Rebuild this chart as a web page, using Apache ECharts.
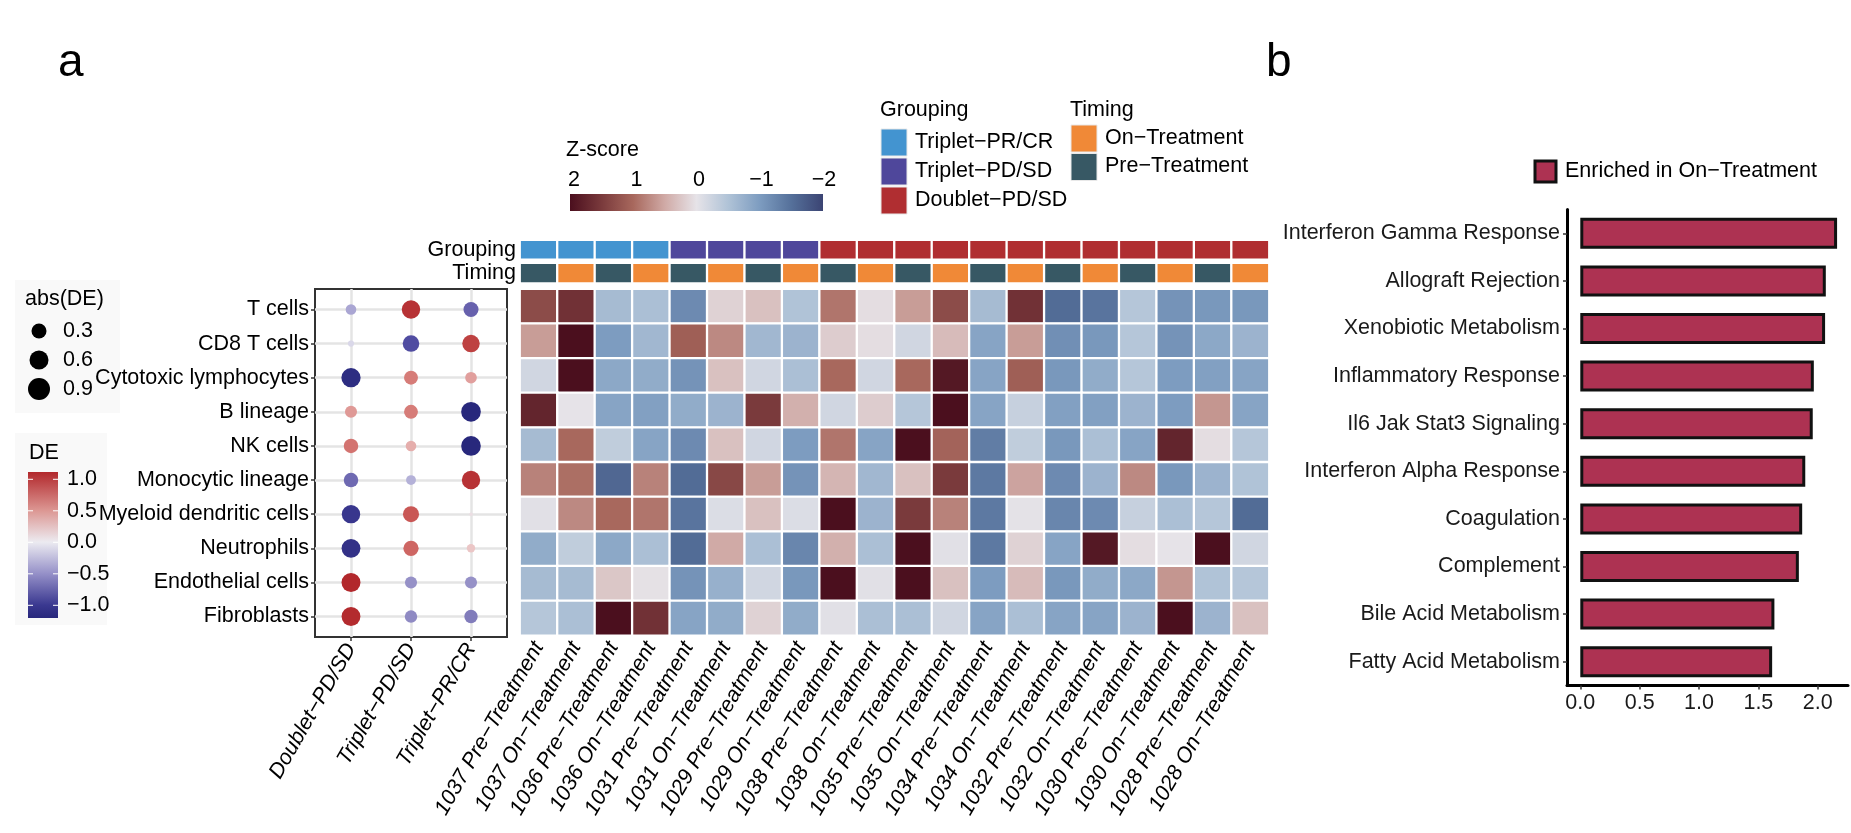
<!DOCTYPE html>
<html><head><meta charset="utf-8">
<script src="https://cdn.jsdelivr.net/npm/echarts@6/dist/echarts.min.js"></script>
<style>html,body{margin:0;padding:0;background:#fff}#c{width:1851px;height:833px}</style>
</head><body><div id="c"></div>
<script>
// ---------- data ----------
const cellTypes = ['T cells','CD8 T cells','Cytotoxic lymphocytes','B lineage','NK cells','Monocytic lineage','Myeloid dendritic cells','Neutrophils','Endothelial cells','Fibroblasts'];
const deGroups = ['Doublet−PD/SD','Triplet−PD/SD','Triplet−PR/CR'];
const deDoublet   = [-0.35,-0.12,-1.15, 0.45, 0.65,-0.65,-1.05,-1.10, 1.12, 1.10];
const deTripletPD = [ 1.05,-0.85, 0.60, 0.60, 0.35,-0.30, 0.80, 0.72,-0.45,-0.48];
const deTripletPR = [-0.70, 0.95, 0.42,-1.20,-1.20, 1.05, 0.04, 0.22,-0.45,-0.55];

const samples = ['1037 Pre−Treatment','1037 On−Treatment','1036 Pre−Treatment','1036 On−Treatment','1031 Pre−Treatment','1031 On−Treatment','1029 Pre−Treatment','1029 On−Treatment','1038 Pre−Treatment','1038 On−Treatment','1035 Pre−Treatment','1035 On−Treatment','1034 Pre−Treatment','1034 On−Treatment','1032 Pre−Treatment','1032 On−Treatment','1030 Pre−Treatment','1030 On−Treatment','1028 Pre−Treatment','1028 On−Treatment'];
const sampleGrouping = ['Triplet−PR/CR','Triplet−PR/CR','Triplet−PR/CR','Triplet−PR/CR','Triplet−PD/SD','Triplet−PD/SD','Triplet−PD/SD','Triplet−PD/SD','Doublet−PD/SD','Doublet−PD/SD','Doublet−PD/SD','Doublet−PD/SD','Doublet−PD/SD','Doublet−PD/SD','Doublet−PD/SD','Doublet−PD/SD','Doublet−PD/SD','Doublet−PD/SD','Doublet−PD/SD','Doublet−PD/SD'];
const sampleTiming = ['Pre−Treatment','On−Treatment','Pre−Treatment','On−Treatment','Pre−Treatment','On−Treatment','Pre−Treatment','On−Treatment','Pre−Treatment','On−Treatment','Pre−Treatment','On−Treatment','Pre−Treatment','On−Treatment','Pre−Treatment','On−Treatment','Pre−Treatment','On−Treatment','Pre−Treatment','On−Treatment'];

const zTcells    = [1.3,1.6,-0.6,-0.55,-1.2,0.15,0.3,-0.5,0.9,0.05, 0.6,1.3,-0.6,1.6,-1.55,-1.45,-0.45,-1.1,-1.05,-1.05];
const zCD8       = [0.6,2.2,-1.0,-0.65,1.1,0.75,-0.65,-0.7,0.2,0.05, -0.2,0.35,-0.9,0.6,-1.15,-1.05,-0.45,-1.1,-0.85,-0.7];
const zCytotoxic = [-0.2,2.2,-0.85,-0.8,-1.1,0.3,-0.2,-0.55,1.0,-0.2, 1.0,1.9,-0.9,1.1,-1.05,-0.8,-0.45,-1.0,-0.95,-0.9];
const zBlineage  = [1.75,0.0,-0.9,-0.95,-0.8,-0.7,1.5,0.45,-0.2,0.2, -0.45,2.2,-0.9,-0.3,-0.95,-0.95,-0.7,-1.0,0.65,-0.9];
const zNK        = [-0.6,1.0,-0.35,-0.9,-1.2,0.3,-0.2,-1.0,0.9,-0.9, 2.2,1.05,-1.35,-0.35,-1.05,-0.55,-0.9,1.75,0.05,-0.45];
const zMono      = [0.8,0.95,-1.6,0.8,-1.55,1.35,0.6,-1.1,0.4,-0.65, 0.3,1.5,-1.4,0.55,-1.2,-0.7,0.75,-1.05,-0.7,-0.5];
const zMyeloid   = [-0.05,0.75,1.0,0.9,-1.45,-0.1,0.3,-0.1,2.2,-0.7, 1.5,0.8,-1.4,-0.02,-1.25,-1.2,-0.3,-0.55,-0.45,-1.55];
const zNeut      = [-0.8,-0.35,-0.85,-0.55,-1.55,0.5,-0.55,-1.25,0.45,-0.55, 2.1,-0.05,-1.4,0.15,-0.9,1.9,0.05,0.0,2.2,-0.2];
const zEndo      = [-0.6,-0.6,0.25,0.02,-1.1,-0.75,-0.2,-1.05,2.2,-0.05, 2.2,0.3,-1.0,0.35,-1.05,-0.8,-0.85,0.65,-0.5,-0.45];
const zFibro     = [-0.45,-0.55,2.2,1.6,-0.9,-0.8,0.15,-0.8,-0.05,-0.55, -0.55,-0.2,-0.9,-0.55,-0.9,-0.9,-0.7,2.2,-0.7,0.3];

const pathways = ['Interferon Gamma Response','Allograft Rejection','Xenobiotic Metabolism','Inflammatory Response','Il6 Jak Stat3 Signaling','Interferon Alpha Response','Coagulation','Complement','Bile Acid Metabolism','Fatty Acid Metabolism'];
const enrichment = [2.163,2.068,2.062,1.967,1.958,1.895,1.869,1.841,1.635,1.616];

const zTicks = [2,1,0,-1,-2];
const deTicks = [1.0,0.5,0.0,-0.5,-1.0];
const absTicks = [0.3,0.6,0.9];
const barTicks = [0,0.5,1,1.5,2];

// ---------- styles ----------
const FONT = 'Liberation Sans, Arial, sans-serif';
const FS = 21.5;
const groupColors = {'Triplet−PR/CR':'#4394d0','Triplet−PD/SD':'#4f479b','Doublet−PD/SD':'#b02e31'};
const timingColors = {'On−Treatment':'#f08937','Pre−Treatment':'#375864'};
const zColors = ['#3b4473','#55709a','#7d9cc0','#b0c3d7','#e6e3e8','#d0aaa6','#a8685d','#7a3a3c','#4b0f1e'];
const deColors = ['#28287c','#47439c','#736db3','#aeaad5','#ebe9f0','#ebc2c1','#da8783','#c75250','#b2282c'];
const barColor = '#ad3252';

// ---------- build series data ----------
const deCols = [deDoublet, deTripletPD, deTripletPR];
const dotData = [];
cellTypes.forEach((ct, r) => deCols.forEach((col, g) => dotData.push([g, r, col[r]])));
const zRows = [zTcells,zCD8,zCytotoxic,zBlineage,zNK,zMono,zMyeloid,zNeut,zEndo,zFibro];
const heatData = [];
zRows.forEach((row, r) => row.forEach((v, c) => heatData.push([c, r, v])));
const groupData = sampleGrouping.map((g, c) => ({value:[c, 0, 0], itemStyle:{color: groupColors[g]}}));
const timingData = sampleTiming.map((t, c) => ({value:[c, 0, 0], itemStyle:{color: timingColors[t]}}));

// ---------- legends (graphic) ----------
const g = [];
const txt = (x, y, text, opt) => Object.assign({type:'text', x, y, style:Object.assign({text, fontFamily:FONT, fontSize:FS, fill:'#000', align:'left', verticalAlign:'middle'}, opt||{})});
g.push(txt(58, 63, 'a', {fontSize:46}));
g.push(txt(1266, 63, 'b', {fontSize:46}));
// Z-score
g.push(txt(566, 150, 'Z-score'));
const zGradStops = zColors.slice().reverse().map((c, i) => ({offset: i/(zColors.length-1), color: c}));
g.push({type:'rect', shape:{x:570, y:194, width:253, height:17}, style:{fill:{type:'linear', x:0, y:0, x2:1, y2:0, colorStops:zGradStops}}});
zTicks.forEach(v => g.push(txt(699 - 62.5*v, 180, String(v).replace('-', '−'), {align:'center'})));
// Grouping legend
g.push(txt(880, 110, 'Grouping'));
const grpNames = ['Triplet−PR/CR','Triplet−PD/SD','Doublet−PD/SD'];
grpNames.forEach((n, i) => {
  g.push({type:'rect', shape:{x:881, y:129 + i*29, width:26, height:27}, style:{fill:groupColors[n], stroke:'#e8e8e8', lineWidth:1}});
  g.push(txt(915, 142.5 + i*29, n));
});
g.push(txt(1070, 110, 'Timing'));
const timNames = ['On−Treatment','Pre−Treatment'];
timNames.forEach((n, i) => {
  g.push({type:'rect', shape:{x:1071, y:125 + i*28.5, width:26, height:27}, style:{fill:timingColors[n], stroke:'#e8e8e8', lineWidth:1}});
  g.push(txt(1105, 138 + i*28.5, n));
});
// abs(DE) legend
g.push({type:'rect', z:-1, shape:{x:15, y:280, width:105, height:133}, style:{fill:'#f9f9f9'}});
g.push(txt(25, 299, 'abs(DE)'));
const absR = [7.5, 9.5, 11];
absTicks.forEach((v, i) => {
  g.push({type:'circle', shape:{cx:39, cy:331 + i*29, r:absR[i]}, style:{fill:'#000'}});
  g.push(txt(63, 331 + i*29, v.toFixed(1)));
});
// DE legend
g.push({type:'rect', z:-1, shape:{x:15, y:433, width:92, height:192}, style:{fill:'#f9f9f9'}});
g.push(txt(29, 453, 'DE'));
g.push({type:'rect', shape:{x:28, y:472, width:30, height:146}, style:{fill:{type:'linear', x:0, y:0, x2:0, y2:1, colorStops:[
  {offset:0, color:'#b2282c'}, {offset:0.264, color:'#dc9793'}, {offset:0.48, color:'#ecebf1'},
  {offset:0.696, color:'#9590c8'}, {offset:0.912, color:'#3a3890'}, {offset:1, color:'#28287c'}]}}});
deTicks.forEach(v => {
  const y = 542.3 - 63*v;
  g.push({type:'line', shape:{x1:28, y1:y, x2:33, y2:y}, style:{stroke:'#fff', lineWidth:1}});
  g.push({type:'line', shape:{x1:53, y1:y, x2:58, y2:y}, style:{stroke:'#fff', lineWidth:1}});
  g.push(txt(67, y, v.toFixed(1).replace('-', '−')));
});
// bar legend
g.push({type:'rect', shape:{x:1535, y:161, width:21, height:21}, style:{fill:barColor, stroke:'#111', lineWidth:3}});
g.push(txt(1565, 171, 'Enriched in On−Treatment'));

// ---------- chart ----------
const chart = echarts.init(document.getElementById('c'), null, {renderer:'canvas'});
const lbl = {fontFamily:FONT, fontSize:FS, color:'#000'};
chart.setOption({
  animation:false,
  backgroundColor:'#fff',
  textStyle:{fontFamily:FONT},
  grid:[
    {left:315, top:289, width:192, height:348, show:true, borderColor:'#333', borderWidth:2, backgroundColor:'#fff'},
    {left:520, top:289, width:749, height:346.5},
    {left:520, top:240, width:749, height:19.5},
    {left:520, top:263.2, width:749, height:20},
    {left:1567, top:209.5, width:281, height:476}
  ],
  xAxis:[
    {type:'value', gridIndex:0, min:-0.6, max:2.6,
     axisLine:{show:false, onZero:false},
     axisTick:{show:true, customValues:[0,1,2], length:4, lineStyle:{color:'#333', width:1.5}},
     axisLabel:Object.assign({customValues:[0,1,2], formatter:v => deGroups[Math.round(v)], rotate:60, fontStyle:'italic', margin:8}, lbl),
     splitLine:{show:true, lineStyle:{color:'#e4e4e4', width:2.5}}},
    {type:'category', gridIndex:1, data:samples, axisLine:{show:false}, axisTick:{show:false},
     axisLabel:Object.assign({interval:0, rotate:60, fontStyle:'italic', margin:8}, lbl), splitLine:{show:false}},
    {type:'category', gridIndex:2, data:samples, show:false},
    {type:'category', gridIndex:3, data:samples, show:false},
    {type:'value', gridIndex:4, min:-0.112, max:2.255,
     axisLine:{show:true, onZero:false, lineStyle:{color:'#000', width:3}},
     axisTick:{show:true, customValues:barTicks, length:4, lineStyle:{color:'#333', width:1.5}},
     axisLabel:Object.assign({customValues:barTicks, formatter:v => v.toFixed(1), margin:7}, lbl, {color:'#1a1a1a'}),
     splitLine:{show:false}}
  ],
  yAxis:[
    {type:'value', gridIndex:0, min:-0.6, max:9.6, inverse:true,
     axisLine:{show:false, onZero:false},
     axisTick:{show:true, customValues:[0,1,2,3,4,5,6,7,8,9], length:4, lineStyle:{color:'#333', width:1.5}},
     axisLabel:Object.assign({customValues:[0,1,2,3,4,5,6,7,8,9], formatter:v => cellTypes[Math.round(v)], margin:6}, lbl),
     splitLine:{show:true, lineStyle:{color:'#e4e4e4', width:2.5}}},
    {type:'category', gridIndex:1, data:cellTypes, inverse:true, show:false},
    {type:'category', gridIndex:2, data:['Grouping'], axisLine:{show:false}, axisTick:{show:false}, axisLabel:Object.assign({margin:4}, lbl)},
    {type:'category', gridIndex:3, data:['Timing'], axisLine:{show:false}, axisTick:{show:false}, axisLabel:Object.assign({margin:4}, lbl)},
    {type:'category', gridIndex:4, data:pathways, inverse:true,
     axisLine:{show:true, onZero:false, lineStyle:{color:'#000', width:3}},
     axisTick:{show:true, length:4, alignWithLabel:true, lineStyle:{color:'#333', width:1.5}},
     axisLabel:Object.assign({margin:7}, lbl, {color:'#1a1a1a'})}
  ],
  visualMap:[
    {type:'continuous', show:false, seriesIndex:0, dimension:2, min:-1.2, max:1.12, inRange:{color:deColors}},
    {type:'continuous', show:false, seriesIndex:1, dimension:2, min:-2, max:2, inRange:{color:zColors}}
  ],
  series:[
    {type:'scatter', xAxisIndex:0, yAxisIndex:0, data:dotData,
     symbolSize:v => Math.max(3.5, 19*Math.sqrt(Math.abs(v[2])/1.12)), itemStyle:{opacity:1}},
    {type:'heatmap', xAxisIndex:1, yAxisIndex:1, data:heatData, itemStyle:{borderColor:'#fff', borderWidth:2.3}},
    {type:'heatmap', xAxisIndex:2, yAxisIndex:2, data:groupData, itemStyle:{borderColor:'#fff', borderWidth:2.3}},
    {type:'heatmap', xAxisIndex:3, yAxisIndex:3, data:timingData, itemStyle:{borderColor:'#fff', borderWidth:2.3}},
    {type:'bar', xAxisIndex:4, yAxisIndex:4, data:enrichment, barWidth:31,
     itemStyle:{color:barColor, borderColor:'#111', borderWidth:3}}
  ],
  graphic:g
});
</script>
</body></html>
